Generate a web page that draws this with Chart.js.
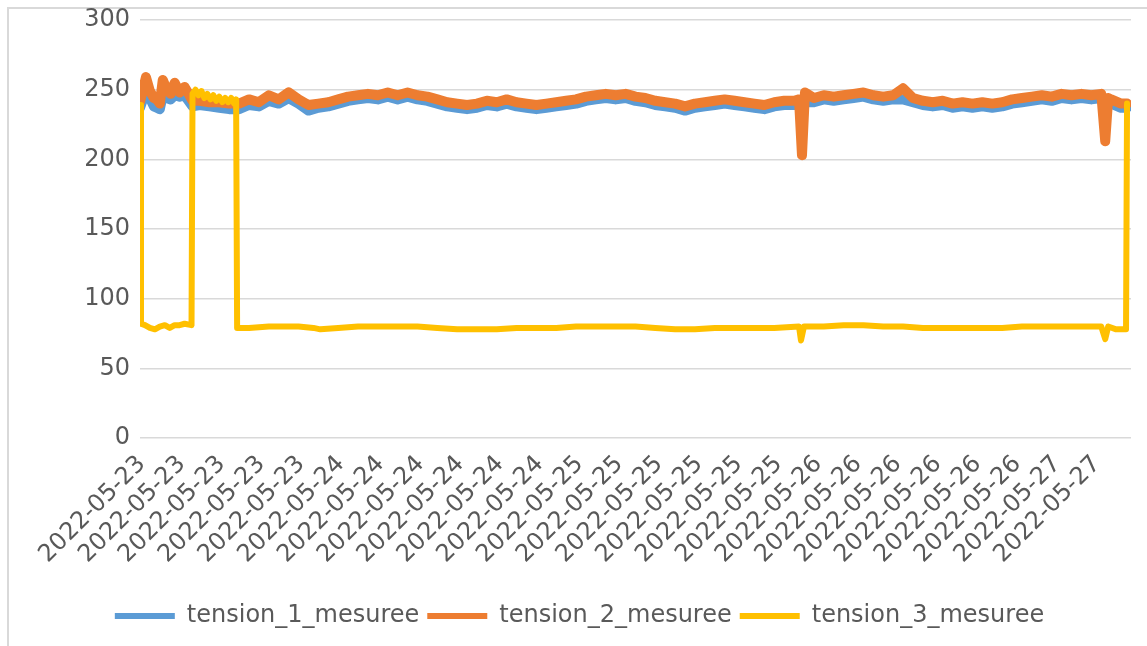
<!DOCTYPE html>
<html>
<head>
<meta charset="utf-8">
<script src="https://cdn.jsdelivr.net/npm/chart.js@4/dist/chart.umd.min.js"></script>
<style>
    body { margin: 0; background: #fff; }
    #frame {
        position: absolute; left: 7px; top: 7px; width: 1160px; height: 660px;
        border-left: 2px solid #d9d9d9; border-top: 2px solid #d9d9d9;
    }
    #chart { position: absolute; left: 8px; top: 8px; }
</style>
</head>
<body>
<div id="frame"></div>
<canvas id="chart" width="1145" height="638"></canvas>
<script>
// --- 1. 資料 ---
// x = 取樣序號 (0..1000)，約每 40 筆一個日期標籤
const SAMPLES_PER_LABEL = 40.15;
const dateLabels = [
    '2022-05-23', '2022-05-23', '2022-05-23', '2022-05-23', '2022-05-23',
    '2022-05-24', '2022-05-24', '2022-05-24', '2022-05-24', '2022-05-24', '2022-05-24',
    '2022-05-25', '2022-05-25', '2022-05-25', '2022-05-25', '2022-05-25', '2022-05-25',
    '2022-05-26', '2022-05-26', '2022-05-26', '2022-05-26', '2022-05-26', '2022-05-26',
    '2022-05-27', '2022-05-27'
];

// tension_1 / tension_2 共用的取樣位置
const samples12 = [
    0, 3, 6, 10, 14, 17, 20, 23, 27, 31, 35, 40, 45, 49, 53,
    60, 70, 80, 90, 100, 110, 120, 130, 140, 150, 160, 170, 180, 190, 200,
    210, 220, 230, 240, 250, 260, 270, 280, 290, 300, 310, 320, 330, 340, 350,
    360, 370, 380, 390, 400, 410, 420, 430, 440, 450, 460, 470, 480, 490, 500,
    510, 520, 530, 540, 550, 560, 570, 580, 590, 600, 610, 620, 630, 640, 650, 660,
    665, 668, 671,
    680, 690, 700, 710, 720, 730, 740, 750, 760, 770, 780, 790, 800, 810, 820,
    830, 840, 850, 860, 870, 880, 890, 900, 910, 920, 930, 940, 950, 960, 970,
    974, 977, 980, 990, 996
];
const tension1 = [
    237, 243, 248, 244, 238, 237, 236, 246, 244, 243, 246, 245, 246, 242, 238,
    239, 238, 237, 236, 236, 239, 238, 242, 240, 244, 240, 235, 237, 238, 240,
    242, 243, 244, 243, 245, 243, 245, 243, 242, 240, 238, 237, 236, 237, 239,
    238, 240, 238, 237, 236, 237, 238, 239, 240, 242, 243, 244, 243, 244, 242,
    241, 239, 238, 237, 235, 237, 238, 239, 240, 239, 238, 237, 236, 238, 239, 239,
    240, 240, 241,
    241, 243, 242, 243, 244, 245, 243, 242, 243, 243, 241, 239, 238, 239, 237,
    238, 237, 238, 237, 238, 240, 241, 242, 243, 242, 244, 243, 244, 243, 244,
    242, 241, 240, 237, 237
];
const tension2 = [
    241, 250, 259, 249, 244, 243, 240, 257, 250, 247, 255, 248, 252, 247, 242,
    242, 241, 241, 240, 240, 243, 241, 246, 243, 248, 243, 239, 240, 241, 243,
    245, 246, 247, 246, 248, 246, 248, 246, 245, 243, 241, 240, 239, 240, 242,
    241, 243, 241, 240, 239, 240, 241, 242, 243, 245, 246, 247, 246, 247, 245,
    244, 242, 241, 240, 238, 240, 241, 242, 243, 242, 241, 240, 239, 241, 242, 242,
    243, 203, 248,
    244, 246, 245, 246, 247, 248, 246, 245, 246, 251, 244, 242, 241, 242, 240,
    241, 240, 241, 240, 241, 243, 244, 245, 246, 245, 247, 246, 247, 246, 247,
    213, 244, 243, 240, 240
];

// tension_3 有自己的取樣位置 (含垂直跳變)
const samples3 = [
    0, 1, 5, 10, 15, 20, 25, 30, 35, 40, 45, 52,
    53, 56, 59, 62, 65, 68, 71, 74, 77, 80, 83, 86, 89, 92, 95, 97,
    98, 110, 130, 150, 160, 175, 182, 200, 220, 240, 260, 280, 300, 320, 340,
    360, 380, 400, 420, 440, 460, 480, 500, 520, 540, 560, 580, 600, 620, 640,
    665, 667, 670, 690, 710, 730, 750, 770, 790, 810, 830, 850, 870, 890, 910,
    930, 950, 970, 974, 977, 985, 995, 996
];
const tension3 = [
    239, 82, 81, 79, 78, 80, 81, 79, 81, 81, 82, 81,
    247, 250, 246, 249, 244, 247, 243, 246, 242, 245, 241, 244, 241, 244, 240, 243,
    79, 79, 80, 80, 80, 79, 78, 79, 80, 80, 80, 80, 79, 78, 78,
    78, 79, 79, 79, 80, 80, 80, 80, 79, 78, 78, 79, 79, 79, 79,
    80, 70, 80, 80, 81, 81, 80, 80, 79, 79, 79, 79, 79, 80, 80,
    80, 80, 80, 71, 80, 78, 78, 240
];

const yTicks = { min: 0, max: 300, step: 50 };

// --- 2. 圖表 ---
function toPoints(xs, ys) {
    return xs.map((x, i) => ({ x: x, y: ys[i] }));
}

function makeSeries(label, xs, ys, color, width, order) {
    return {
        label: label,
        data: toPoints(xs, ys),
        borderColor: color,
        backgroundColor: color,
        borderWidth: width,
        borderJoinStyle: 'round',
        borderCapStyle: 'round',
        pointRadius: 0,
        tension: 0,
        order: order
    };
}

const FONT = { family: 'DejaVu Sans', size: 24 };
const TEXT_COLOR = '#595959';
const GRID_COLOR = '#d9d9d9';

// 圖例整體右移一點
const legendShift = {
    id: 'legendShift',
    afterLayout(chart) {
        chart.legend.left += 10;
        chart.legend.right += 10;
    }
};

new Chart(document.getElementById('chart'), {
    type: 'line',
    data: {
        datasets: [
            makeSeries('tension_1_mesuree', samples12, tension1, '#5b9bd5', 10, 3),
            makeSeries('tension_2_mesuree', samples12, tension2, '#ed7d31', 10, 2),
            makeSeries('tension_3_mesuree', samples3, tension3, '#ffc000', 6, 1)
        ]
    },
    plugins: [legendShift],
    options: {
        responsive: false,
        devicePixelRatio: 1,
        animation: false,
        layout: { padding: { top: 12, right: 22, bottom: 8, left: 0 } },
        plugins: {
            tooltip: { enabled: false },
            legend: {
                position: 'bottom',
                labels: {
                    font: FONT,
                    color: TEXT_COLOR,
                    boxWidth: 60,
                    boxHeight: 6,
                    padding: 8,
                    sort: (a, b) => a.datasetIndex - b.datasetIndex,
                    generateLabels: (chart) => {
                        const items = Chart.defaults.plugins.legend.labels.generateLabels(chart);
                        items.forEach(it => { it.lineWidth = 0; it.fillStyle = it.strokeStyle; });
                        return items;
                    }
                }
            }
        },
        scales: {
            x: {
                type: 'linear',
                min: 0,
                max: 1000,
                grid: { display: false, drawTicks: false },
                border: { display: false },
                afterBuildTicks: (scale) => {
                    scale.ticks = dateLabels.map((d, i) => ({ value: i * SAMPLES_PER_LABEL }));
                },
                afterFit: (scale) => { scale.height = 158; },
                ticks: {
                    autoSkip: false,
                    minRotation: 45,
                    maxRotation: 45,
                    padding: 12,
                    labelOffset: 2,
                    font: FONT,
                    color: TEXT_COLOR,
                    callback: (value, index) => dateLabels[index]
                }
            },
            y: {
                min: yTicks.min,
                max: yTicks.max,
                grid: { color: GRID_COLOR, lineWidth: 1.5, drawTicks: false },
                border: { display: false },
                afterFit: (scale) => {
                    scale.width = 132;
                    scale.paddingTop = 0;
                    scale.paddingBottom = 0;
                },
                ticks: {
                    stepSize: yTicks.step,
                    padding: 10,
                    font: { family: 'DejaVu Sans', size: 24, lineHeight: 1 },
                    color: TEXT_COLOR
                }
            }
        }
    }
});
</script>
</body>
</html>
